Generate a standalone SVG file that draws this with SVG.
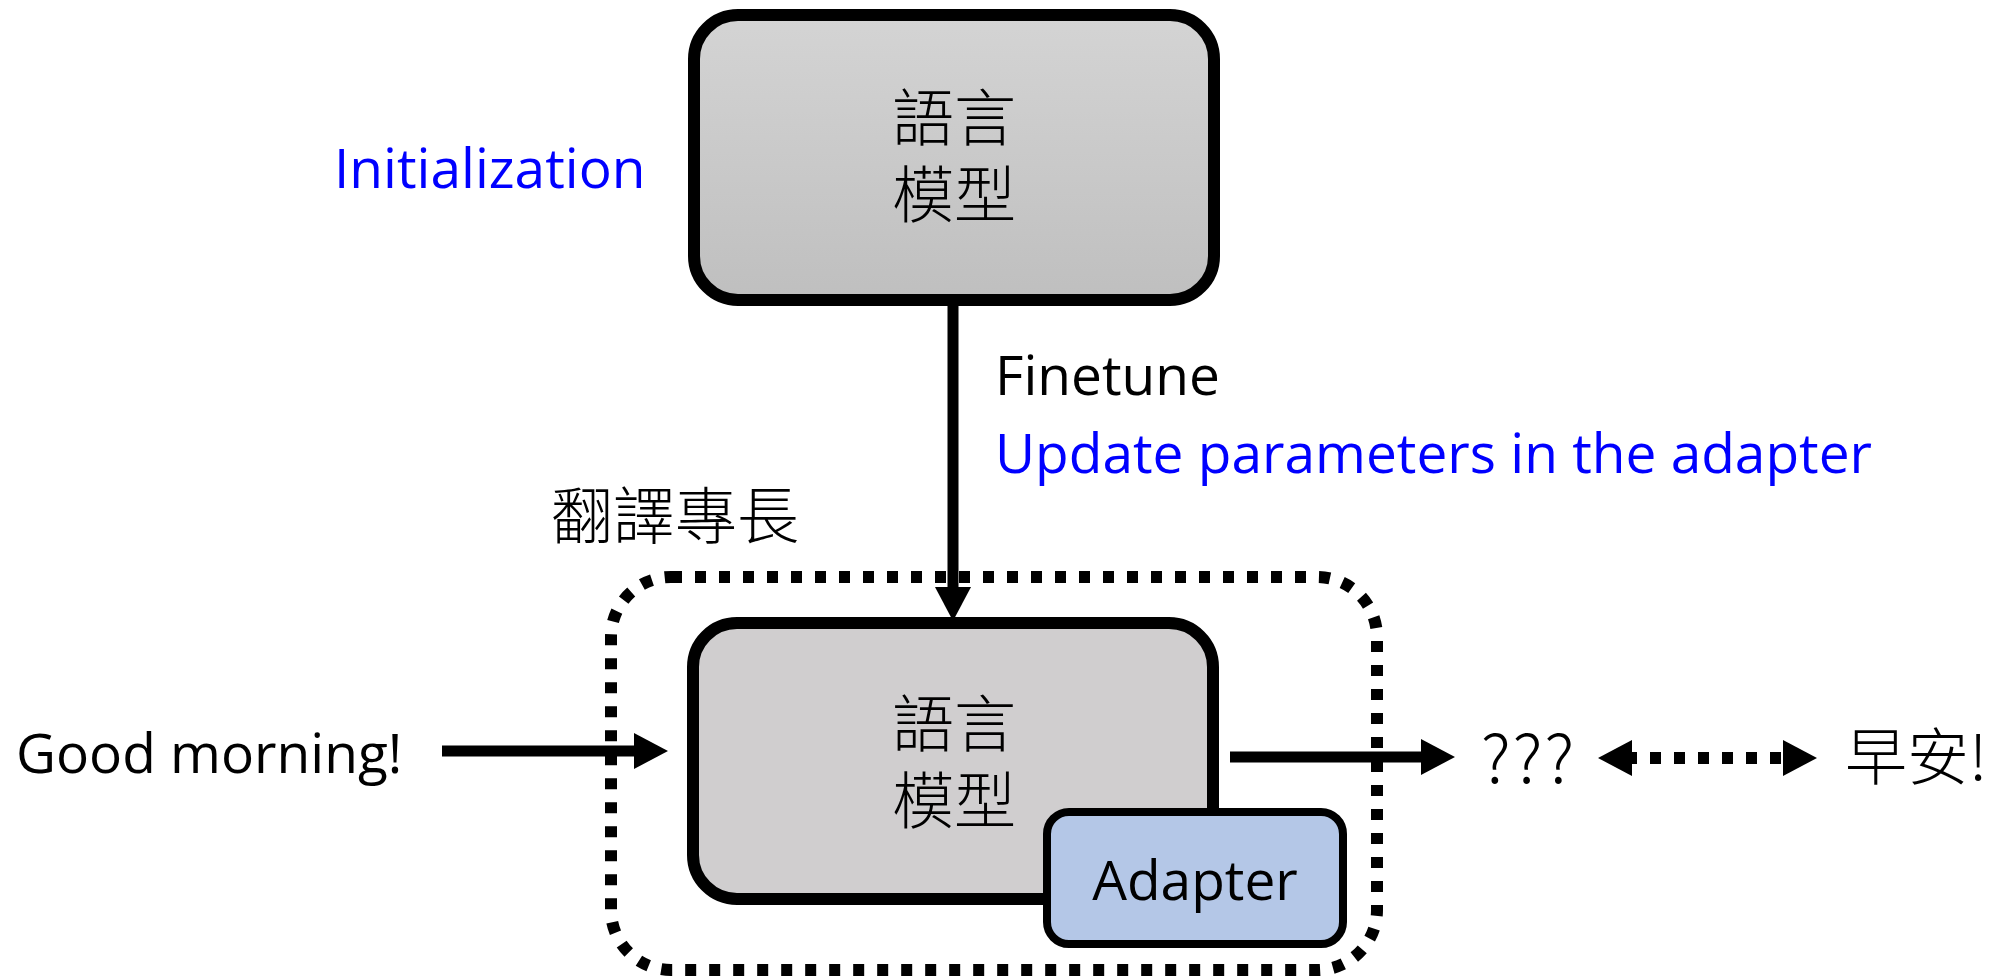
<svg xmlns="http://www.w3.org/2000/svg" width="1993" height="979" viewBox="0 0 1993 979">
  <defs>
    <linearGradient id="grayFade" x1="0" y1="0" x2="0" y2="1">
      <stop offset="0" stop-color="#d4d4d4"/>
      <stop offset="1" stop-color="#bfbfbf"/>
    </linearGradient>
    <marker id="head" markerUnits="userSpaceOnUse" viewBox="0 0 34 36" markerWidth="34" markerHeight="36" refX="0" refY="18" orient="auto-start-reverse">
      <path d="M0,0 L34,18 L0,36 Z" fill="#000"/>
    </marker>
    <style>
      .en { font-family: "Open Sans", "Noto Sans", sans-serif; font-size: 55px; fill: #000; }
      .blue { fill: #0000ff; }
      .cjk { font-family: "Noto Sans CJK TC", "Noto Sans CJK SC", sans-serif; font-size: 62px; font-weight: 300; fill: #000; }
      .box { stroke: #000; stroke-width: 12; }
      .wire { stroke: #000; stroke-width: 11; fill: none; }
      .dots { stroke: #000; stroke-width: 12; fill: none; stroke-dasharray: 11 13; }
    </style>
  </defs>

  <rect width="1993" height="979" fill="#ffffff"/>

  <!-- pretrained language model -->
  <g id="base-model">
    <rect class="box" x="694" y="15" width="520" height="285" rx="44" fill="url(#grayFade)"/>
    <text class="cjk" text-anchor="middle"><tspan x="954" y="141">語言</tspan><tspan x="954" y="218">模型</tspan></text>
  </g>

  <g id="init-label">
    <text class="en blue" x="334" y="188">Initialization</text>
  </g>

  <g id="finetune-label">
    <text class="en" x="995" y="395">Finetune</text>
    <text class="en blue" x="995" y="473">Update parameters in the adapter</text>
  </g>

  <!-- translation skill group -->
  <g id="skill-group">
    <rect class="dots" x="611" y="577" width="766" height="393" rx="60"/>
    <text class="cjk" x="551" y="539">翻譯專長</text>
  </g>

  <g id="tuned-model">
    <rect class="box" x="693" y="623" width="520" height="276" rx="44" fill="#d0cecf"/>
    <text class="cjk" text-anchor="middle"><tspan x="954" y="747">語言</tspan><tspan x="954" y="824">模型</tspan></text>
  </g>

  <g id="adapter">
    <rect x="1047" y="812" width="296" height="132" rx="22" fill="#b4c7e7" stroke="#000" stroke-width="8"/>
    <text class="en" x="1195" y="900" text-anchor="middle">Adapter</text>
  </g>

  <g id="input">
    <text class="en" x="16" y="773">Good morning!</text>
  </g>

  <g id="output">
    <text class="cjk" x="1481" y="783" style="font-size:66px; letter-spacing:2px">???</text>
  </g>

  <g id="target">
    <text class="cjk" x="1845" y="780">早安!</text>
  </g>

  <!-- connectors -->
  <g id="connectors">
    <path class="wire" d="M953,300 L953,587" marker-end="url(#head)"/>
    <path class="wire" d="M442,751 L634,751" marker-end="url(#head)"/>
    <path class="wire" d="M1230,757 L1421,757" marker-end="url(#head)"/>
    <path class="dots" d="M1632,758 L1783,758" stroke-dashoffset="6" marker-start="url(#head)" marker-end="url(#head)"/>
  </g>
</svg>
